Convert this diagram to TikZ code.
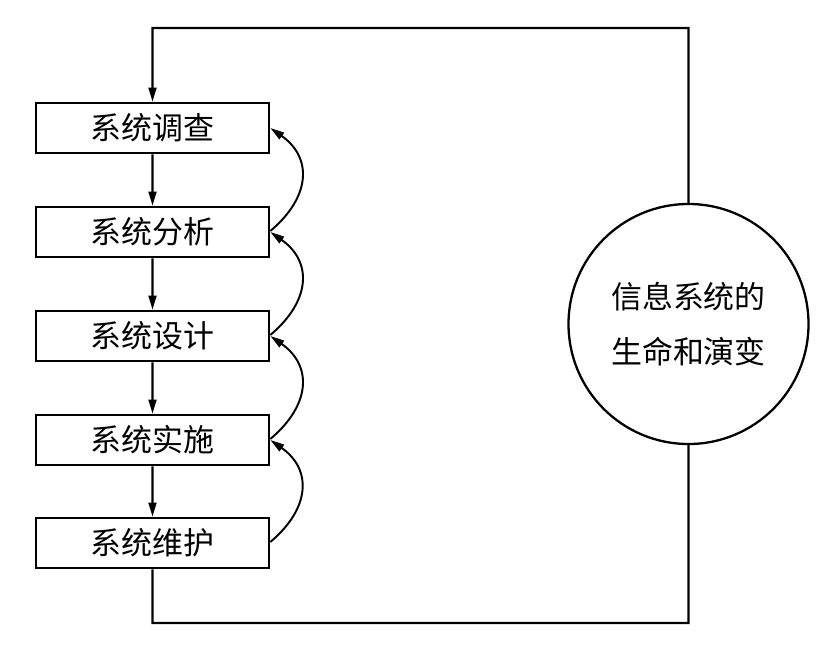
\documentclass[tikz,border=0pt]{standalone}
\usepackage{fontspec}
\newfontfamily\cjk{Noto Sans CJK SC}
\usetikzlibrary{arrows.meta}

\begin{document}
\begin{tikzpicture}[scale=0.2,
  phasebox/.style={draw, line width=1.5pt, minimum width=4.66cm, minimum height=1cm, inner sep=0pt},
  lifecircle/.style={draw, circle, line width=1.3pt, minimum size=4.8cm, inner sep=0pt, align=center},
  flow/.style={line width=1.2pt, -{Triangle[length=8pt,width=4.5pt]}},
  backarrow/.style={line width=1.1pt, -{Triangle[length=8pt,width=4.5pt]}}]
\tikzstyle{every node}+=[font=\cjk\fontsize{17.6}{31}\selectfont]
\useasboundingbox (0,0) rectangle (82.4,-64.6);
\node [phasebox] (b1) at (15.25,-12.8) {系统调查};
\node [phasebox] (b2) at (15.25,-23.2) {系统分析};
\node [phasebox] (b3) at (15.25,-33.6) {系统设计};
\node [phasebox] (b4) at (15.25,-44.0) {系统实施};
\node [phasebox] (b5) at (15.25,-54.3) {系统维护};
\node [lifecircle] (life) at (68.85,-32.4) {信息系统的\\生命和演变};
\coordinate (tl) at (b1.north |- 0,-2.8);
\coordinate (br) at (life.south |- 0,-62.3);
% main flow
\draw [flow] (b1) -- (b2);
\draw [flow] (b2) -- (b3);
\draw [flow] (b3) -- (b4);
\draw [flow] (b4) -- (b5);
% feedback
\draw [backarrow] ([yshift=1mm]b2.east) to [out=40,in=-35,looseness=1.3] (b1.east);
\draw [backarrow] ([yshift=1mm]b3.east) to [out=40,in=-35,looseness=1.3] (b2.east);
\draw [backarrow] ([yshift=1mm]b4.east) to [out=40,in=-35,looseness=1.3] (b3.east);
\draw [backarrow] ([yshift=1mm]b5.east) to [out=40,in=-35,looseness=1.3] (b4.east);
% loop round the life cycle
\draw [flow] (life.north) |- (tl) -- (b1.north);
\draw [line width=1.2pt] (b5.south) |- (br) -- (life.south);
\end{tikzpicture}
\end{document}
